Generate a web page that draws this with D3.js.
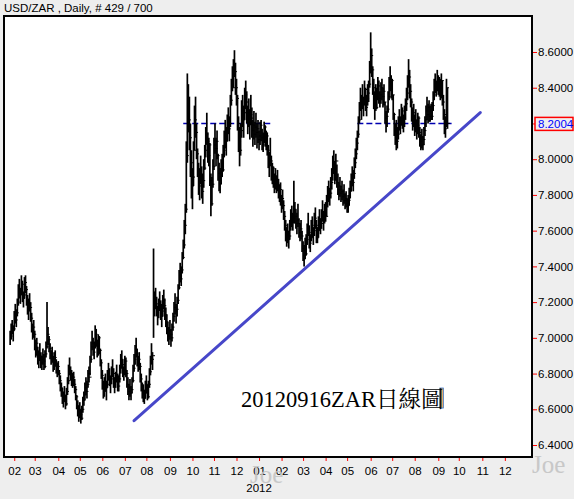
<!DOCTYPE html>
<html>
<head>
<meta charset="utf-8">
<script src="https://cdn.jsdelivr.net/npm/d3@7"></script>
<style>
  html, body { margin: 0; padding: 0; background: #eeeeee; }
  svg { display: block; }
</style>
</head>
<body>
<div id="chart"></div>
<script>
// ================================
// USD/ZAR daily bars (Jan 2011 -> Sep 2012) with trend line
// ================================

const HEADER = "USD/ZAR , Daily, # 429 / 700";
const CAPTION = "20120916ZAR日線圖";
const YEAR_LABEL = "2012";

// weekday calendar of the x axis (one slot per weekday)
const CAL_START = "2011-01-18";
const CAL_END = "2013-01-01";
const VISIBLE_DAYS = 515.5;
const FIRST_BAR = "2011-01-26";

const Y_TICKS = [6.4, 6.6, 6.8, 7.0, 7.2, 7.4, 7.6, 7.8, 8.0, 8.2, 8.4, 8.6];
const Y_RANGE = [6.333, 8.8015];
const LAST_PRICE = 8.2004;

// daily highs / lows / closes, one per weekday from FIRST_BAR
const highs = [
  7.04,7.08,7.10,7.07,7.15,7.19,7.16,7.22,7.30,7.33,
  7.28,7.35,7.32,7.26,7.34,7.35,7.29,7.24,7.22,7.25,
  7.20,7.14,7.08,7.10,7.04,6.99,7.00,6.95,6.93,6.97,
  6.92,6.90,6.94,6.91,6.93,6.98,7.20,7.06,7.01,6.97,
  6.93,6.95,6.90,6.92,6.93,6.88,6.86,6.87,6.82,6.79,
  6.75,6.72,6.70,6.73,6.68,6.72,6.78,6.85,6.89,6.84,
  6.82,6.80,6.81,6.77,6.73,6.68,6.65,6.62,6.64,6.60,
  6.62,6.67,6.70,6.75,6.78,6.76,6.82,6.84,6.90,6.98,
  7.04,7.00,6.98,7.07,7.05,6.99,7.02,7.01,6.94,6.88,
  6.82,6.76,6.78,6.80,6.76,6.82,6.86,6.83,6.79,6.84,
  6.88,6.83,6.78,6.81,6.85,6.80,6.79,6.85,6.91,6.93,
  6.88,6.84,6.90,6.89,6.82,6.78,6.74,6.77,6.73,6.78,
  6.85,6.91,6.96,7.00,6.94,6.90,6.92,6.86,6.80,6.75,
  6.74,6.71,6.76,6.79,6.74,6.76,6.83,6.90,6.97,6.92,
  7.50,7.26,7.28,7.23,7.18,7.22,7.26,7.21,7.19,7.24,
  7.27,7.22,7.17,7.13,7.09,7.06,7.10,7.05,7.08,7.14,
  7.20,7.25,7.19,7.23,7.30,7.38,7.42,7.40,7.48,7.55,
  7.66,7.75,8.10,8.48,8.42,8.35,8.20,8.05,7.95,8.10,
  8.30,8.35,8.20,8.06,7.98,7.95,8.02,7.96,7.92,8.00,
  8.08,8.18,8.26,8.15,8.12,8.09,7.92,7.90,8.00,8.12,
  8.20,8.12,8.16,8.03,7.98,7.95,8.00,8.03,8.08,8.16,
  8.22,8.18,8.25,8.29,8.24,8.36,8.45,8.52,8.56,8.61,
  8.54,8.45,8.36,8.24,8.18,8.20,8.33,8.36,8.30,8.40,
  8.44,8.38,8.30,8.34,8.28,8.36,8.29,8.22,8.27,8.21,
  8.26,8.20,8.22,8.16,8.21,8.22,8.17,8.15,8.21,8.19,
  8.16,8.15,8.08,8.04,8.12,8.02,7.98,7.96,7.92,7.95,
  7.91,7.94,7.89,7.86,7.87,7.80,7.83,7.77,7.71,7.66,
  7.62,7.64,7.60,7.66,7.72,7.74,7.70,7.88,7.76,7.72,
  7.70,7.75,7.67,7.64,7.66,7.60,7.54,7.52,7.56,7.58,
  7.64,7.70,7.63,7.58,7.66,7.68,7.62,7.70,7.73,7.66,
  7.62,7.68,7.72,7.67,7.72,7.77,7.71,7.75,7.76,7.80,
  7.85,7.88,7.84,7.90,7.95,8.02,8.05,7.99,8.03,7.97,
  7.92,7.87,7.90,7.85,7.88,7.83,7.86,7.81,7.82,7.78,
  7.80,7.84,7.88,7.92,7.96,7.94,8.01,8.06,8.12,8.16,
  8.24,8.32,8.40,8.36,8.42,8.35,8.44,8.40,8.36,8.42,
  8.44,8.55,8.71,8.62,8.52,8.45,8.38,8.42,8.40,8.46,
  8.44,8.38,8.43,8.45,8.40,8.42,8.32,8.27,8.30,8.38,
  8.46,8.52,8.47,8.45,8.36,8.26,8.20,8.22,8.18,8.24,
  8.28,8.24,8.31,8.29,8.25,8.30,8.34,8.40,8.47,8.56,
  8.50,8.42,8.34,8.29,8.31,8.25,8.28,8.22,8.26,8.24,
  8.18,8.14,8.17,8.13,8.18,8.24,8.30,8.35,8.31,8.33,
  8.30,8.31,8.32,8.38,8.45,8.48,8.44,8.50,8.47,8.46,
  8.45,8.48,8.44,8.36,8.28,8.24,8.45,8.40
];

const lows = [
  6.96,6.99,7.02,6.98,7.04,7.08,7.06,7.12,7.18,7.22,
  7.19,7.24,7.20,7.17,7.22,7.25,7.18,7.13,7.10,7.15,
  7.09,7.03,6.99,7.00,6.93,6.89,6.90,6.85,6.83,6.87,
  6.83,6.82,6.85,6.82,6.83,6.89,6.94,6.96,6.92,6.88,
  6.85,6.86,6.81,6.82,6.84,6.80,6.78,6.79,6.74,6.70,
  6.67,6.63,6.61,6.64,6.60,6.62,6.68,6.74,6.79,6.76,
  6.73,6.72,6.73,6.69,6.65,6.60,6.56,6.53,6.55,6.52,
  6.54,6.58,6.62,6.65,6.68,6.66,6.72,6.75,6.79,6.86,
  6.93,6.90,6.88,6.94,6.95,6.89,6.90,6.91,6.84,6.77,
  6.71,6.66,6.67,6.70,6.65,6.72,6.76,6.73,6.69,6.74,
  6.78,6.72,6.69,6.72,6.75,6.70,6.70,6.75,6.80,6.83,
  6.78,6.76,6.79,6.78,6.72,6.68,6.65,6.67,6.65,6.69,
  6.75,6.81,6.85,6.89,6.84,6.81,6.82,6.75,6.70,6.66,
  6.64,6.63,6.66,6.69,6.65,6.66,6.72,6.79,6.85,6.82,
  7.00,7.12,7.16,7.12,7.07,7.11,7.15,7.10,7.06,7.12,
  7.16,7.10,7.06,7.02,6.98,6.96,6.99,6.95,6.98,7.04,
  7.09,7.13,7.08,7.12,7.19,7.27,7.31,7.29,7.36,7.44,
  7.50,7.58,7.70,7.98,8.15,8.05,7.90,7.78,7.72,7.85,
  8.05,8.12,8.00,7.90,7.80,7.77,7.86,7.78,7.75,7.84,
  7.94,8.01,8.08,7.98,7.96,7.85,7.68,7.74,7.84,7.94,
  8.03,7.96,8.00,7.88,7.82,7.81,7.86,7.90,7.93,8.01,
  8.06,8.02,8.10,8.14,8.10,8.18,8.30,8.38,8.40,8.46,
  8.36,8.30,8.16,8.04,7.96,8.02,8.12,8.18,8.12,8.22,
  8.28,8.20,8.14,8.18,8.11,8.19,8.12,8.07,8.11,8.08,
  8.12,8.06,8.09,8.05,8.08,8.10,8.05,8.04,8.09,8.07,
  8.05,8.02,7.95,7.90,7.96,7.88,7.86,7.84,7.81,7.83,
  7.81,7.82,7.78,7.76,7.74,7.70,7.72,7.66,7.60,7.54,
  7.51,7.53,7.50,7.55,7.60,7.62,7.60,7.64,7.64,7.61,
  7.58,7.62,7.56,7.54,7.55,7.48,7.43,7.40,7.44,7.46,
  7.52,7.57,7.50,7.48,7.54,7.56,7.52,7.57,7.61,7.53,
  7.53,7.56,7.60,7.58,7.61,7.65,7.60,7.64,7.65,7.68,
  7.73,7.76,7.74,7.78,7.83,7.88,7.92,7.86,7.88,7.84,
  7.80,7.77,7.79,7.76,7.77,7.74,7.75,7.72,7.73,7.70,
  7.70,7.74,7.78,7.82,7.85,7.82,7.89,7.95,8.00,8.05,
  8.12,8.20,8.27,8.22,8.28,8.24,8.30,8.27,8.24,8.30,
  8.32,8.40,8.48,8.46,8.36,8.28,8.22,8.27,8.28,8.33,
  8.31,8.29,8.31,8.33,8.29,8.30,8.20,8.15,8.18,8.26,
  8.33,8.38,8.34,8.33,8.22,8.13,8.08,8.05,8.06,8.11,
  8.16,8.14,8.19,8.17,8.15,8.18,8.22,8.27,8.33,8.40,
  8.34,8.29,8.21,8.16,8.18,8.13,8.15,8.11,8.14,8.12,
  8.07,8.05,8.06,8.05,8.08,8.13,8.18,8.22,8.20,8.21,
  8.21,8.22,8.22,8.27,8.33,8.37,8.35,8.38,8.36,8.35,
  8.33,8.34,8.30,8.22,8.14,8.12,8.18,8.17
];

const closes = [
  7.01,7.06,7.04,7.05,7.12,7.10,7.14,7.20,7.27,7.24,
  7.26,7.30,7.22,7.24,7.31,7.27,7.20,7.15,7.19,7.17,
  7.11,7.05,7.06,7.02,6.95,6.97,6.92,6.88,6.90,6.89,
  6.86,6.88,6.87,6.84,6.91,6.95,7.02,6.99,6.94,6.90,
  6.91,6.88,6.84,6.89,6.86,6.82,6.84,6.80,6.76,6.72,
  6.69,6.66,6.68,6.65,6.63,6.70,6.76,6.82,6.81,6.80,
  6.75,6.78,6.74,6.71,6.67,6.62,6.58,6.60,6.57,6.55,
  6.60,6.65,6.68,6.72,6.70,6.74,6.80,6.78,6.88,6.95,
  6.97,6.92,6.96,7.02,6.97,6.91,7.00,6.93,6.86,6.79,
  6.73,6.70,6.75,6.72,6.74,6.80,6.78,6.75,6.77,6.82,
  6.80,6.74,6.76,6.79,6.77,6.73,6.77,6.83,6.88,6.85,
  6.81,6.82,6.87,6.80,6.74,6.70,6.72,6.69,6.71,6.76,
  6.83,6.88,6.93,6.91,6.86,6.88,6.84,6.77,6.72,6.70,
  6.66,6.69,6.74,6.71,6.67,6.74,6.81,6.87,6.88,6.90,
  7.18,7.22,7.19,7.14,7.16,7.20,7.17,7.12,7.15,7.21,
  7.18,7.13,7.09,7.05,7.01,7.04,7.02,7.00,7.06,7.12,
  7.17,7.15,7.16,7.21,7.28,7.35,7.33,7.38,7.45,7.52,
  7.63,7.72,8.02,8.30,8.22,8.12,7.98,7.85,7.90,8.05,
  8.22,8.15,8.03,7.94,7.85,7.90,7.88,7.82,7.88,7.95,
  8.05,8.14,8.10,8.02,8.08,7.88,7.75,7.86,7.96,8.08,
  8.06,8.10,8.02,7.92,7.86,7.92,7.97,7.94,8.05,8.12,
  8.10,8.15,8.22,8.17,8.20,8.33,8.42,8.40,8.52,8.49,
  8.40,8.34,8.20,8.10,8.05,8.16,8.28,8.22,8.26,8.36,
  8.32,8.24,8.27,8.21,8.25,8.23,8.16,8.19,8.14,8.18,
  8.15,8.17,8.11,8.13,8.19,8.12,8.08,8.13,8.18,8.10,
  8.13,8.05,7.98,8.01,7.99,7.92,7.95,7.87,7.89,7.86,
  7.88,7.84,7.80,7.83,7.76,7.78,7.74,7.68,7.63,7.57,
  7.59,7.55,7.57,7.63,7.69,7.65,7.67,7.72,7.68,7.64,
  7.66,7.64,7.59,7.61,7.57,7.50,7.46,7.49,7.47,7.55,
  7.60,7.59,7.53,7.56,7.63,7.58,7.60,7.67,7.63,7.56,
  7.60,7.65,7.62,7.64,7.69,7.67,7.69,7.72,7.68,7.77,
  7.82,7.79,7.81,7.87,7.92,7.98,7.95,7.90,7.99,7.87,
  7.83,7.85,7.81,7.82,7.79,7.80,7.77,7.78,7.75,7.74,
  7.77,7.82,7.85,7.89,7.87,7.92,7.98,8.03,8.09,8.14,
  8.22,8.29,8.30,8.33,8.31,8.32,8.39,8.29,8.34,8.37,
  8.42,8.52,8.58,8.50,8.40,8.31,8.35,8.29,8.37,8.41,
  8.34,8.36,8.40,8.35,8.38,8.32,8.23,8.24,8.28,8.35,
  8.43,8.41,8.44,8.36,8.25,8.16,8.17,8.10,8.14,8.21,
  8.19,8.22,8.27,8.20,8.23,8.28,8.31,8.37,8.44,8.46,
  8.38,8.32,8.24,8.26,8.20,8.22,8.17,8.19,8.23,8.15,
  8.10,8.12,8.08,8.11,8.16,8.22,8.27,8.25,8.29,8.24,
  8.27,8.24,8.30,8.36,8.42,8.40,8.42,8.45,8.39,8.43,
  8.36,8.44,8.32,8.25,8.17,8.21,8.40,8.2004
];

// hand drawn trend line (date, price)
const trendDates = ["2011-07-14", "2012-10-30"];
const trendPrices = [6.536, 8.261];

// dashed last-price level, drawn over these date spans
const levelSpans = [["2011-09-20", "2012-01-17"], ["2012-05-15", "2012-09-20"]];

// small cursor box near the right edge
const cursorDate = "2012-09-05";
const cursorPrices = [6.719, 6.607];

document.addEventListener("DOMContentLoaded", () => {
  const W = 574, H = 499;
  const plot = { left: 4, top: 16, right: 532, bottom: 457 };
  const SANS = "'Liberation Sans', Arial, sans-serif";
  const SERIF = "'Liberation Serif', 'Times New Roman', serif";

  const svg = d3.select("#chart")
    .append("svg")
    .attr("width", W)
    .attr("height", H);

  svg.append("rect")
    .attr("width", W)
    .attr("height", H)
    .attr("fill", "#eeeeee");

  svg.append("rect")
    .attr("x", plot.left)
    .attr("y", plot.top)
    .attr("width", plot.right - plot.left)
    .attr("height", plot.bottom - plot.top)
    .attr("fill", "#ffffff");

  // weekday calendar
  const parseDay = d3.utcParse("%Y-%m-%d");
  const days = d3.utcDays(parseDay(CAL_START), parseDay(CAL_END))
    .filter((d) => d.getUTCDay() !== 0 && d.getUTCDay() !== 6);
  const dayIdx = new Map(days.map((d, i) => [+d, i]));
  const idxOf = (s) => {
    const t = parseDay(s);
    return dayIdx.has(+t) ? dayIdx.get(+t) : (t - days[0]) / 864e5 * 5 / 7;
  };

  const monthTicks = days
    .map((d, i) => ({ d, i }))
    .filter((t) => t.i > 0 && t.d.getUTCMonth() !== days[t.i - 1].getUTCMonth());

  // Scales
  const x = d3.scaleLinear().domain([0, VISIBLE_DAYS]).range([plot.left, plot.right]);
  const y = d3.scaleLinear().domain(Y_RANGE).range([plot.bottom, plot.top]);

  const first = idxOf(FIRST_BAR);
  const bars = highs.map((h, k) => ({
    i: first + k,
    high: h,
    low: lows[k],
    close: closes[k],
  }));

  // dashed level line (behind bars)
  svg.append("g")
    .selectAll("line")
    .data(levelSpans)
    .join("line")
    .attr("x1", (d) => x(idxOf(d[0])))
    .attr("x2", (d) => x(idxOf(d[1])))
    .attr("y1", y(LAST_PRICE))
    .attr("y2", y(LAST_PRICE))
    .attr("stroke", "#0000b0")
    .attr("stroke-width", 1.5)
    .attr("stroke-dasharray", "6,3");

  // OHLC bars
  const barG = svg.append("g");

  barG.selectAll(".hl")
    .data(bars)
    .join("line")
    .attr("class", "hl")
    .attr("x1", (d) => x(d.i))
    .attr("x2", (d) => x(d.i))
    .attr("y1", (d) => y(d.high))
    .attr("y2", (d) => y(d.low))
    .attr("stroke", "#000")
    .attr("stroke-width", 1.7);

  barG.selectAll(".cl")
    .data(bars)
    .join("line")
    .attr("class", "cl")
    .attr("x1", (d) => x(d.i))
    .attr("x2", (d) => x(d.i) + 2.5)
    .attr("y1", (d) => y(d.close))
    .attr("y2", (d) => y(d.close))
    .attr("stroke", "#000")
    .attr("stroke-width", 1);

  // trend line
  svg.append("line")
    .attr("x1", x(idxOf(trendDates[0])))
    .attr("y1", y(trendPrices[0]))
    .attr("x2", x(idxOf(trendDates[1])))
    .attr("y2", y(trendPrices[1]))
    .attr("stroke", "#4747c9")
    .attr("stroke-width", 3)
    .attr("stroke-linecap", "round");

  // cursor box
  svg.append("rect")
    .attr("x", x(idxOf(cursorDate)) - 0.5)
    .attr("y", y(cursorPrices[0]))
    .attr("width", 3.5)
    .attr("height", y(cursorPrices[1]) - y(cursorPrices[0]))
    .attr("fill", "#f2ad68")
    .attr("stroke", "#2f6fc4")
    .attr("stroke-width", 0.8);

  // frame
  svg.append("rect")
    .attr("x", plot.left)
    .attr("y", plot.top)
    .attr("width", plot.right - plot.left)
    .attr("height", plot.bottom - plot.top)
    .attr("fill", "none")
    .attr("stroke", "#000")
    .attr("stroke-width", 2);

  // Right axis
  const yAxis = svg.append("g")
    .attr("transform", `translate(${plot.right + 1},0)`)
    .call(d3.axisRight(y).tickValues(Y_TICKS).tickFormat(d3.format(".4f")).tickSize(4).tickPadding(1));
  yAxis.select(".domain").remove();
  yAxis.attr("font-family", SANS).attr("font-size", 11.5);
  yAxis.selectAll(".tick line").attr("stroke", "#ff0000");
  yAxis.selectAll(".tick text").attr("fill", "#000");

  // Bottom axis
  const fmtMonth = d3.utcFormat("%m");
  const xAxis = svg.append("g")
    .attr("transform", `translate(0,${plot.bottom + 1})`)
    .call(
      d3.axisBottom(x)
        .tickValues(monthTicks.map((t) => t.i))
        .tickFormat((d, k) => fmtMonth(monthTicks[k].d))
        .tickSize(3)
        .tickPadding(6)
    );
  xAxis.select(".domain").remove();
  xAxis.attr("font-family", SANS).attr("font-size", 11.5);
  xAxis.selectAll(".tick line").attr("stroke", "#ff0000");
  xAxis.selectAll(".tick text").attr("fill", "#000");

  const jan = monthTicks.find((t) => t.d.getUTCMonth() === 0);
  svg.append("text")
    .attr("x", x(jan.i))
    .attr("y", 492)
    .attr("text-anchor", "middle")
    .attr("font-family", SANS)
    .attr("font-size", 11.5)
    .text(YEAR_LABEL);

  // last price box
  const ly = y(LAST_PRICE);
  svg.append("rect")
    .attr("x", 535)
    .attr("y", ly - 6)
    .attr("width", 38)
    .attr("height", 13)
    .attr("fill", "#eeeeee")
    .attr("stroke", "#ff0000")
    .attr("stroke-width", 1.5);
  svg.append("text")
    .attr("x", 538)
    .attr("y", ly + 4.5)
    .attr("font-family", SANS)
    .attr("font-size", 11.5)
    .attr("fill", "#0000ff")
    .text(d3.format(".4f")(LAST_PRICE));

  // header
  svg.append("text")
    .attr("x", 4)
    .attr("y", 12)
    .attr("font-family", SANS)
    .attr("font-size", 11.5)
    .attr("fill", "#000")
    .text(HEADER);

  // caption inside the plot
  svg.append("text")
    .attr("x", 241)
    .attr("y", 407)
    .attr("font-family", "'Liberation Serif', 'Noto Serif CJK TC', 'Noto Sans CJK TC', serif")
    .attr("font-size", 22.5)
    .attr("fill", "#000")
    .text(CAPTION);

  // watermarks
  [[250, 483], [532, 473]].forEach(([wx, wy]) => {
    svg.append("text")
      .attr("x", wx)
      .attr("y", wy)
      .attr("font-family", SERIF)
      .attr("font-size", 25)
      .attr("fill", "#c4c4c4")
      .attr("opacity", 0.9)
      .text("Joe");
  });
});
</script>
</body>
</html>
